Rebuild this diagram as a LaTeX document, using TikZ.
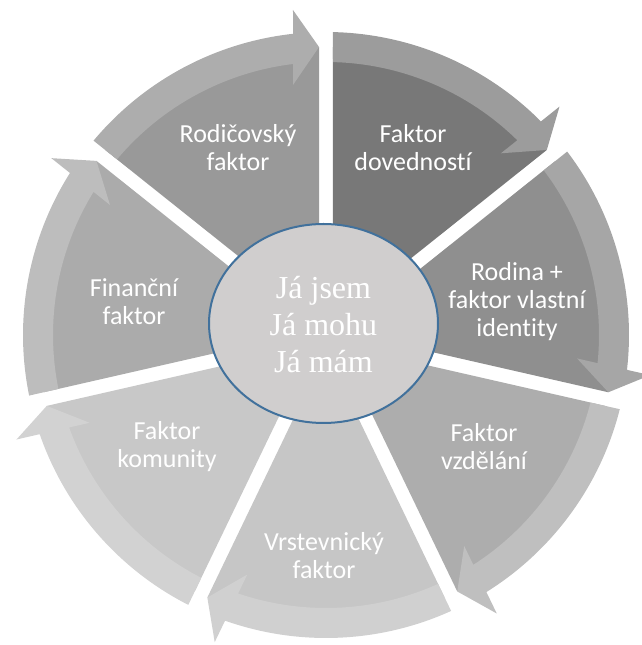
\documentclass[tikz,border=0pt]{standalone}
\usepackage{fontspec}
\setmainfont{Carlito}[Ligatures=NoCommon]
\newfontfamily\centerfont{Liberation Serif}
\definecolor{w0}{HTML}{787878}\definecolor{b0}{HTML}{9C9C9C}
\definecolor{w1}{HTML}{8F8F8F}\definecolor{b1}{HTML}{A6A6A6}
\definecolor{w2}{HTML}{ADADAD}\definecolor{b2}{HTML}{BFBFBF}
\definecolor{w3}{HTML}{C6C6C6}\definecolor{b3}{HTML}{D0D0D0}
\definecolor{w4}{HTML}{C8C8C8}\definecolor{b4}{HTML}{D2D2D2}
\definecolor{w5}{HTML}{ABABAB}\definecolor{b5}{HTML}{BDBDBD}
\definecolor{w6}{HTML}{999999}\definecolor{b6}{HTML}{ADADAD}
\definecolor{ellfill}{HTML}{D0CECE}
\definecolor{ellline}{HTML}{41719C}
\newcommand\drawsegment[3]{%
  \pgfmathsetmacro\ts{90-51.4286*#1}%
  \pgfmathsetmacro\te{\ts-51.4286}%
  \pgfmathsetmacro\tm{\ts-25.7143}%
  \fill[#2] (\tm:16.1pt) -- ({\ts-1.39}:288pt) arc[start angle={\ts-1.39}, end angle={\te+1.39}, radius=288pt] -- cycle;
  \fill[#3] ({\ts-1.32}:303pt) arc[start angle={\ts-1.32}, end angle={\te+6.25}, radius=303pt]
    -- ({\te+5.80}:326.7pt) -- ({\te+1.39}:288.1pt) -- ({\te+7.52}:252.2pt)
    -- ({\te+6.94}:273pt) arc[start angle={\te+6.94}, end angle={\ts-1.47}, radius=273pt] -- cycle;
}
\tikzset{
  seglabel/.style={text=white, align=center, font=\fontsize{26}{28}\selectfont, inner sep=0pt},
  centerlabel/.style={text=white, align=center, font=\centerfont\fontsize{32}{37}\selectfont, inner sep=0pt}
}
\begin{document}
\begin{tikzpicture}
\useasboundingbox (0pt,0pt) rectangle (641pt,645pt);
\begin{scope}[shift={(326pt,310pt)}]
  \drawsegment{0}{w0}{b0}
  \drawsegment{1}{w1}{b1}
  \drawsegment{2}{w2}{b2}
  \drawsegment{3}{w3}{b3}
  \drawsegment{4}{w4}{b4}
  \drawsegment{5}{w5}{b5}
  \drawsegment{6}{w6}{b6}
\end{scope}
\fill[ellfill] (323.5pt,321.5pt) ellipse[x radius=114.5pt, y radius=99.5pt];
\draw[ellline, line width=2pt] (323.5pt,321.5pt) ellipse[x radius=114.5pt, y radius=99.5pt];
\node[centerlabel] (center) at (323.5pt,320pt) {Já jsem\\Já mohu\\Já mám};
\node[seglabel] (rodic) at (238pt,497pt) {Rodičovský\\faktor};
\node[seglabel] (doved) at (413pt,497pt) {Faktor\\dovedností};
\node[seglabel] (rodina) at (517pt,343pt) {Rodina +\\faktor vlastní\\identity};
\node[seglabel] (vzdel) at (484pt,198pt) {Faktor\\vzdělání};
\node[seglabel] (vrst) at (324pt,89pt) {Vrstevnický\\faktor};
\node[seglabel] (komun) at (167pt,198pt) {Faktor\\komunity};
\node[seglabel] (financ) at (134pt,343pt) {Finanční\\faktor};
\end{tikzpicture}
\end{document}
